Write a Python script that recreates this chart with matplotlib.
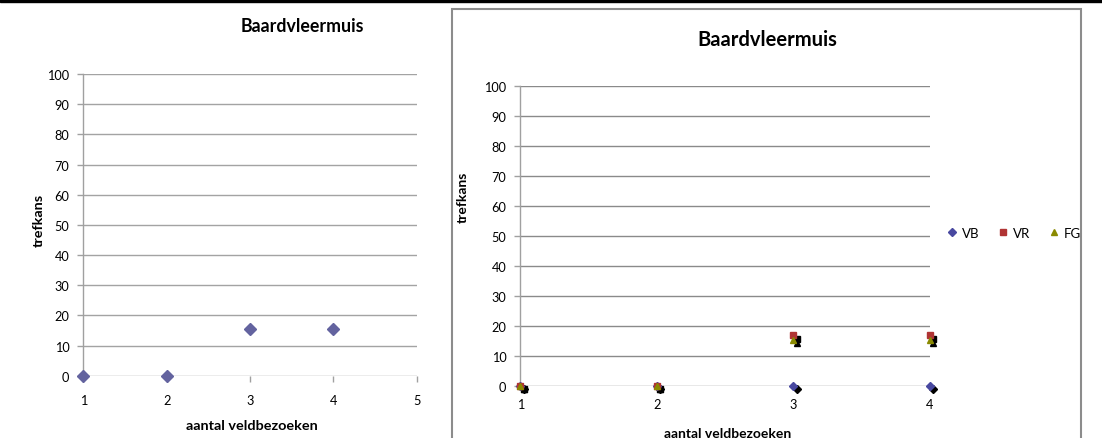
import matplotlib
matplotlib.use("Agg")
from matplotlib import pyplot as plt
from matplotlib.patches import Rectangle
from matplotlib.transforms import ScaledTranslation

# Data
visits = [1, 2, 3, 4]
left_values = [0, 0, 15.5, 15.5]
vb_values = [0, 0, 0, 0]
vr_values = [0, 0, 16.8, 16.8]
fg_values = [0, 0, 15.4, 15.4]
y_ticks = list(range(0, 101, 10))

title = "Baardvleermuis"
x_label = "aantal veldbezoeken"
y_label = "trefkans"

plt.rcParams["font.family"] = ["Lato", "DejaVu Sans"]

W, H = 1102, 439
fig = plt.figure(figsize=(W / 100, H / 100), dpi=100)


def px_axes(x0, y0, x1, y1):
    # pixel box (top-left origin) -> figure fraction
    return fig.add_axes([x0 / W, 1 - y1 / H, (x1 - x0) / W, (y1 - y0) / H])


def style_axes(ax, grid_color, xtick_len):
    ax.set_ylim(0, 100)
    ax.set_yticks(y_ticks)
    for side in ["top", "right", "bottom"]:
        ax.spines[side].set_visible(False)
    ax.spines["left"].set_color("#a0a0a0")
    ax.spines["left"].set_linewidth(1.0)
    ax.grid(axis="y", color=grid_color, linewidth=1.0)
    ax.set_axisbelow(True)
    ax.tick_params(axis="y", length=4, width=1, color="#a0a0a0", pad=6,
                   labelsize=9.2, labelcolor="#000000")
    ax.tick_params(axis="x", length=xtick_len, width=1, color="#a0a0a0", pad=9,
                   labelsize=9.2, labelcolor="#000000")


# Top black bar
fig.patches.append(Rectangle((0, 1 - 3 / H), 1, 3 / H, transform=fig.transFigure,
                             color="black", zorder=0))

# Left chart
ax1 = px_axes(83.3, 75, 416.7, 376.7)
style_axes(ax1, "#a3a3a3", 4)
ax1.set_xlim(1, 5)
ax1.set_xticks([1, 2, 3, 4, 5])
ax1.plot(visits, left_values, linestyle="none", marker="D", markersize=6.5,
         color="#63639f", clip_on=False, zorder=5)
ax1.set_xlabel(x_label, fontsize=10.4, fontweight="bold")
ax1.xaxis.set_label_coords(0.506, -0.1435)
ax1.set_ylabel(y_label, fontsize=10.4, fontweight="bold")
ax1.yaxis.set_label_coords(-0.115, 0.519)
fig.text(302 / W, 1 - 26.7 / H, title, fontsize=12.8, fontweight="bold",
         ha="center", va="center")

# Right chart frame
fig.patches.append(Rectangle((452 / W, 1 - 440 / H), (1081 - 452) / W, 430 / H,
                             transform=fig.transFigure, facecolor="none",
                             edgecolor="#8c8c8c", linewidth=1.5, zorder=0))

# Right chart
ax2 = px_axes(520.3, 86.7, 929.6, 386.7)
style_axes(ax2, "#8a8a8a", 0)
ax2.set_xlim(1, 4)
ax2.set_xticks(visits)

shadow = ax2.transData + ScaledTranslation(2.5 / 72, -2.5 / 72, fig.dpi_scale_trans)
series = [
    ("VB", vb_values, "D", 4, "#4848a0"),
    ("VR", vr_values, "s", 4.5, "#b03434"),
    ("FG", fg_values, "^", 5, "#8a8a00"),
]
for name, vals, mk, ms, col in series:
    ax2.plot(visits, vals, linestyle="none", marker=mk, markersize=ms,
             color="black", transform=shadow, clip_on=False, zorder=4)
for name, vals, mk, ms, col in series:
    ax2.plot(visits, vals, linestyle="none", marker=mk, markersize=ms,
             color=col, label=name, clip_on=False, zorder=5)

ax2.set_xlabel(x_label, fontsize=10, fontweight="bold")
ax2.xaxis.set_label_coords(0.506, -0.137)
ax2.set_ylabel(y_label, fontsize=10, fontweight="bold")
ax2.yaxis.set_label_coords(-0.126, 0.632)
fig.text(767 / W, 1 - 40 / H, title, fontsize=14.5, fontweight="bold",
         ha="center", va="center")

ax2.legend(loc="center left", bbox_to_anchor=(948 / W, 1 - 234 / H),
           bbox_transform=fig.transFigure, ncol=3, frameon=False,
           fontsize=9.5, handlelength=0.6, handletextpad=0.45, columnspacing=1.5,
           borderpad=0, borderaxespad=0)

fig.savefig("out.png", dpi=100)
